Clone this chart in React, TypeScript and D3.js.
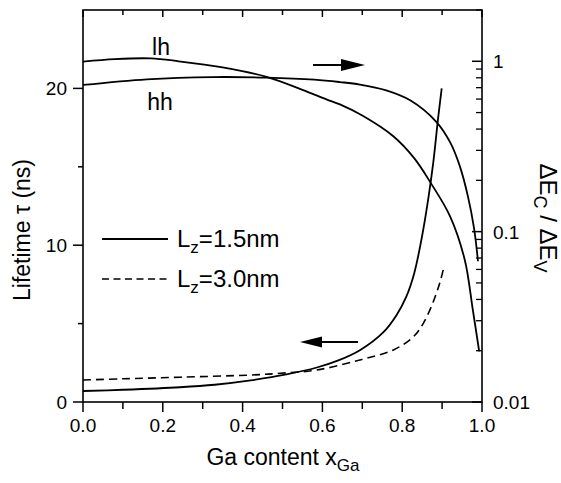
import React from "react";
import * as d3 from "d3";

// ---------- data ----------
const lifeSolidX = [0, 0.1, 0.243, 0.33, 0.42, 0.51, 0.586, 0.64, 0.694, 0.753, 0.786, 0.81, 0.83, 0.85, 0.865, 0.878, 0.89, 0.899];
const lifeSolidY = [0.7, 0.78, 0.94, 1.1, 1.38, 1.76, 2.2, 2.65, 3.3, 4.45, 5.55, 6.7, 8.2, 10.6, 12.9, 15.3, 18.1, 20.0];

const lifeDashX = [0, 0.1, 0.243, 0.42, 0.494, 0.586, 0.694, 0.778, 0.828, 0.853, 0.878, 0.895, 0.903];
const lifeDashY = [1.4, 1.48, 1.58, 1.72, 1.83, 2.04, 2.68, 3.32, 4.16, 5.02, 6.4, 7.67, 8.45];

const lhX = [0, 0.08, 0.17, 0.24, 0.35, 0.46, 0.55, 0.61, 0.644, 0.7, 0.777, 0.83, 0.871, 0.92, 0.957, 0.977, 0.993];
const lhY = [0.996, 1.03, 1.04, 1.0, 0.92, 0.81, 0.68, 0.598, 0.558, 0.48, 0.364, 0.27, 0.194, 0.123, 0.068, 0.0347, 0.0198];

const hhX = [0, 0.16, 0.326, 0.46, 0.58, 0.644, 0.694, 0.76, 0.82, 0.886, 0.92, 0.945, 0.965, 0.98, 0.99];
const hhY = [0.726, 0.784, 0.808, 0.802, 0.78, 0.755, 0.73, 0.675, 0.59, 0.44, 0.335, 0.24, 0.16, 0.105, 0.067];

const xTickLabels = ["0.0", "0.2", "0.4", "0.6", "0.8", "1.0"];
const xTicks = [0, 0.2, 0.4, 0.6, 0.8, 1.0];
const xMinorTicks = [0.1, 0.3, 0.5, 0.7, 0.9];
const yLeftTicks = [0, 10, 20];
const yLeftMinor = [5, 15];
const yRightTicks = [0.01, 0.1, 1];
const yRightTickLabels = ["0.01", "0.1", "1"];
const yRightMinor = [0.02, 0.03, 0.04, 0.05, 0.06, 0.07, 0.08, 0.09, 0.2, 0.3, 0.4, 0.5, 0.6, 0.7, 0.8, 0.9, 2];

// ---------- layout ----------
const W = 561, H = 483;
const L = 83, R = 482, T = 10, B = 402;
const FONT = "'Liberation Sans', Arial, Helvetica, sans-serif";

const x = d3.scaleLinear().domain([0, 1]).range([L, R]);
const yL = d3.scaleLinear().domain([0, 25]).range([B, T]);
const yR = d3.scaleLog().domain([0.01, 2]).range([B, T]);

const zip = (xs: number[], ys: number[]) => xs.map((v, i) => [v, ys[i]] as [number, number]);

const curve = d3.curveCatmullRom.alpha(0.5);
const lineL = d3.line<[number, number]>().x(d => x(d[0])).y(d => yL(d[1])).curve(curve);
const lineR = d3.line<[number, number]>().x(d => x(d[0])).y(d => yR(d[1])).curve(curve);

export default function App() {
  const stroke = "#000";
  return (
    <svg width={W} height={H} style={{ position: "absolute", left: 0, top: 0, background: "#fff" }} fontFamily={FONT}>
      <rect x={0} y={0} width={W} height={H} fill="#fff" />
      {/* frame */}
      <rect x={L} y={T} width={R - L} height={B - T} fill="none" stroke={stroke} strokeWidth={1.6} />

      {/* bottom ticks (outward) and top ticks (inward) */}
      {xTicks.map((t, i) => (
        <g key={"xt" + i}>
          <line x1={x(t)} x2={x(t)} y1={B} y2={B + 10} stroke={stroke} strokeWidth={1.5} />
          <line x1={x(t)} x2={x(t)} y1={T} y2={T + 7} stroke={stroke} strokeWidth={1.5} />
          <text x={x(t)} y={B + 30} textAnchor="middle" fontSize={19}>{xTickLabels[i]}</text>
        </g>
      ))}
      {xMinorTicks.map((t, i) => (
        <g key={"xm" + i}>
          <line x1={x(t)} x2={x(t)} y1={B} y2={B + 7} stroke={stroke} strokeWidth={1.5} />
          <line x1={x(t)} x2={x(t)} y1={T} y2={T + 5} stroke={stroke} strokeWidth={1.5} />
        </g>
      ))}

      {/* left ticks */}
      {yLeftTicks.map((t, i) => (
        <g key={"yl" + i}>
          <line x1={L - 10} x2={L} y1={yL(t)} y2={yL(t)} stroke={stroke} strokeWidth={1.5} />
          <text x={L - 16} y={yL(t) + 7} textAnchor="end" fontSize={19}>{t}</text>
        </g>
      ))}
      {yLeftMinor.map((t, i) => (
        <line key={"ylm" + i} x1={L - 5} x2={L} y1={yL(t)} y2={yL(t)} stroke={stroke} strokeWidth={1.5} />
      ))}

      {/* right ticks (inward) */}
      {yRightTicks.map((t, i) => (
        <g key={"yr" + i}>
          <line x1={R - 10} x2={R} y1={yR(t)} y2={yR(t)} stroke={stroke} strokeWidth={1.5} />
          <text x={R + 11} y={yR(t) + 7} textAnchor="start" fontSize={19}>{yRightTickLabels[i]}</text>
        </g>
      ))}
      {yRightMinor.map((t, i) => (
        <line key={"yrm" + i} x1={R - 6} x2={R} y1={yR(t)} y2={yR(t)} stroke={stroke} strokeWidth={1.3} />
      ))}

      {/* curves */}
      <path d={lineR(zip(lhX, lhY)) || ""} fill="none" stroke={stroke} strokeWidth={1.8} />
      <path d={lineR(zip(hhX, hhY)) || ""} fill="none" stroke={stroke} strokeWidth={1.8} />
      <path d={lineL(zip(lifeSolidX, lifeSolidY)) || ""} fill="none" stroke={stroke} strokeWidth={1.8} />
      <path d={lineL(zip(lifeDashX, lifeDashY)) || ""} fill="none" stroke={stroke} strokeWidth={1.6} strokeDasharray="8,5" />

      {/* curve labels */}
      <text x={161} y={55} textAnchor="middle" fontSize={23}>lh</text>
      <text x={160} y={110} textAnchor="middle" fontSize={23}>hh</text>

      {/* arrows */}
      <line x1={313} x2={345} y1={65} y2={65} stroke={stroke} strokeWidth={2} />
      <path d="M365,65 L341,59 L341,71 Z" fill={stroke} />
      <line x1={320} x2={358} y1={342} y2={342} stroke={stroke} strokeWidth={2} />
      <path d="M300,342 L322,336.5 L322,347.5 Z" fill={stroke} />

      {/* legend */}
      <line x1={102} x2={168} y1={239} y2={239} stroke={stroke} strokeWidth={1.8} />
      <text x={177} y={247} fontSize={24}>L<tspan dy={6} fontSize={17}>z</tspan><tspan dy={-6}>=1.5nm</tspan></text>
      <line x1={102} x2={168} y1={279} y2={279} stroke={stroke} strokeWidth={1.6} strokeDasharray="7,4.5" />
      <text x={177} y={287} fontSize={24}>L<tspan dy={6} fontSize={17}>z</tspan><tspan dy={-6}>=3.0nm</tspan></text>

      {/* axis titles */}
      <text transform="translate(30,230) rotate(-90)" textAnchor="middle" fontSize={23}>Lifetime τ (ns)</text>
      <text x={283} y={465} textAnchor="middle" fontSize={23}>Ga content x<tspan dy={6} fontSize={17}>Ga</tspan></text>
      <text transform="translate(540,218) rotate(90)" textAnchor="middle" fontSize={24}>ΔE<tspan dy={6} fontSize={18}>C</tspan><tspan dy={-6}> / ΔE</tspan><tspan dy={6} fontSize={18}>V</tspan></text>
    </svg>
  );
}
